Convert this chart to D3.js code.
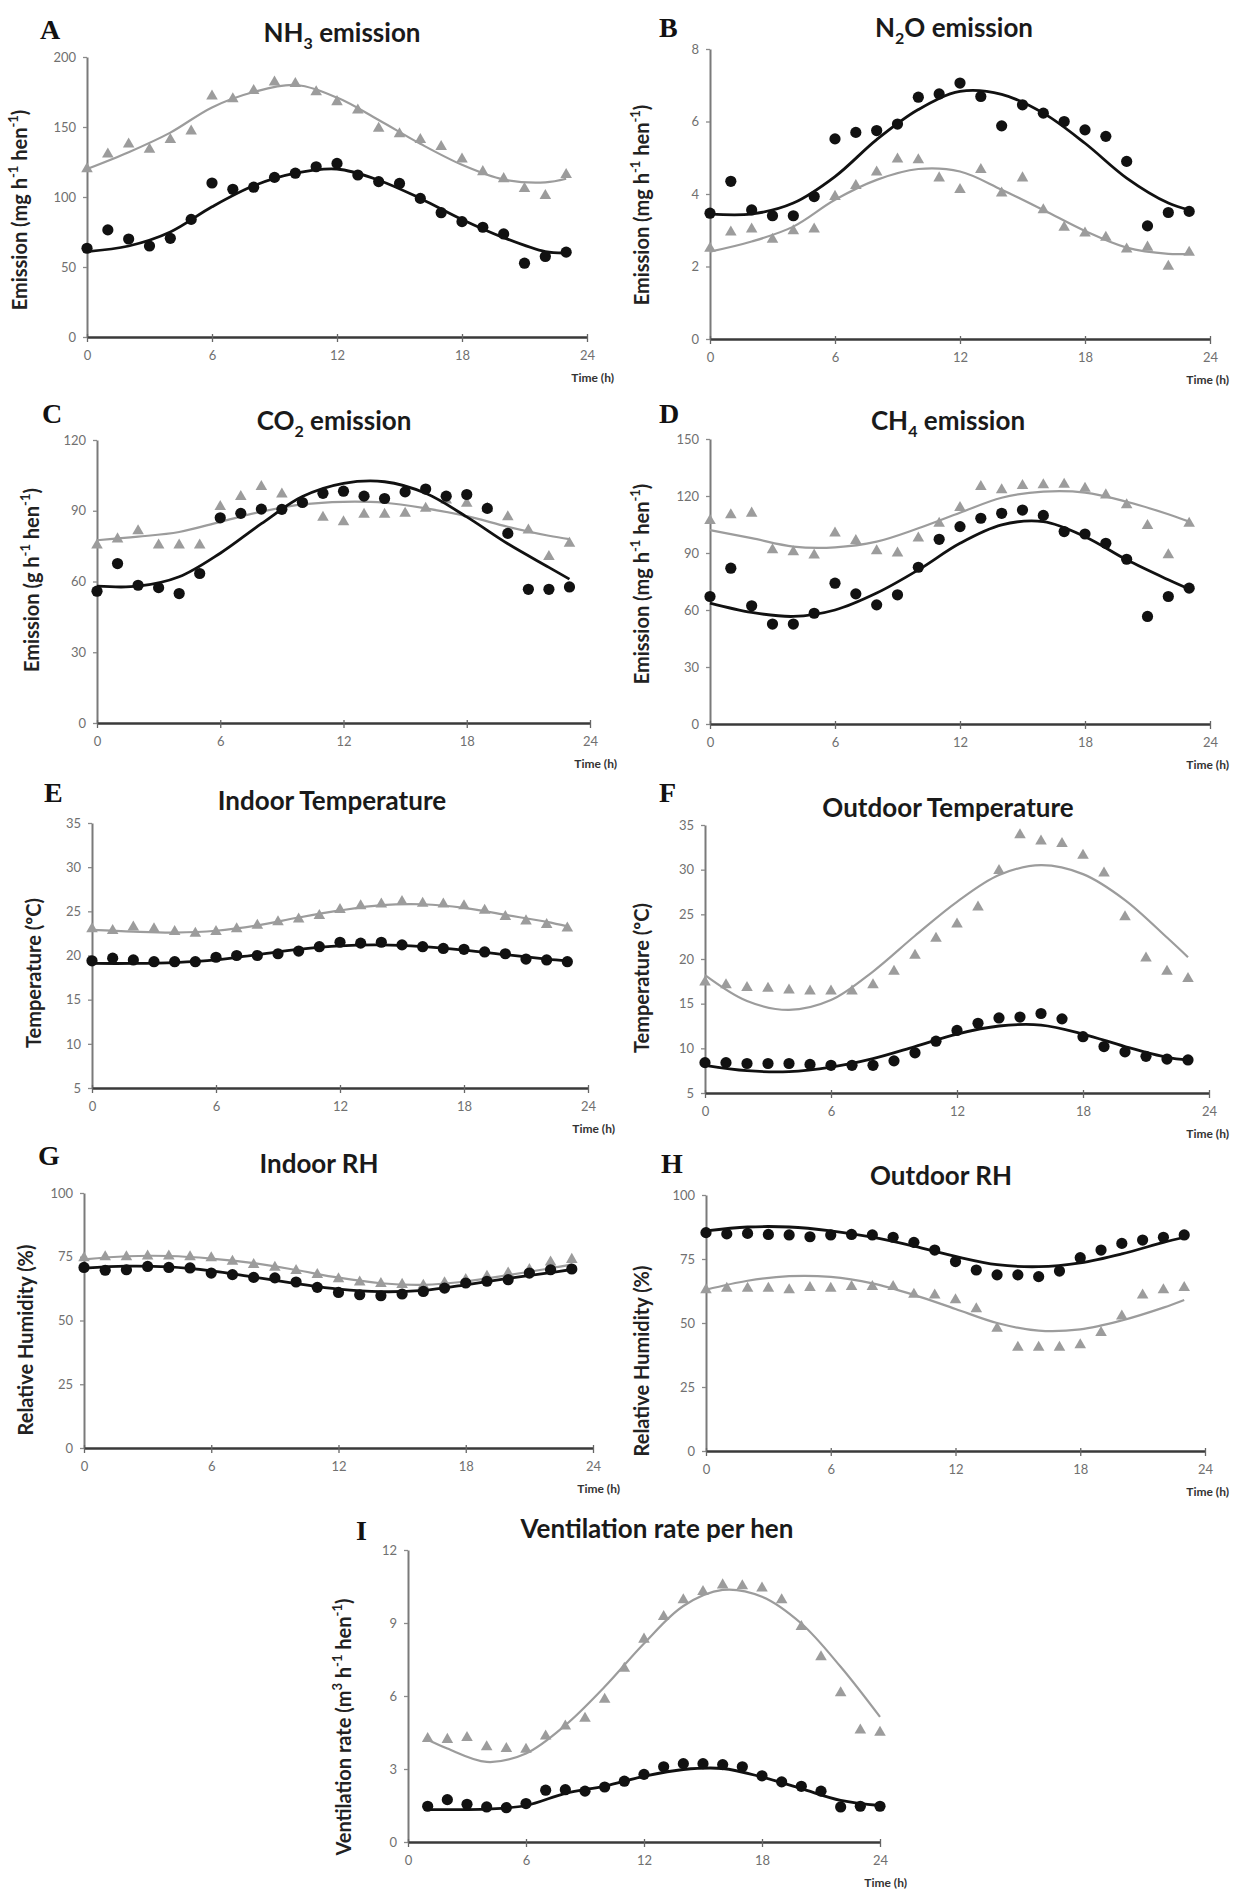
<!DOCTYPE html>
<html><head><meta charset="utf-8">
<script src="https://cdn.jsdelivr.net/npm/d3@7"></script>
<style>
body{margin:0;background:#fff;}
svg{display:block;background:#fff;}
</style></head><body>
<svg id="chart" width="1233" height="1892"></svg>
<script>
// ---------- categories / ticks ----------
const hours   = [0,1,2,3,4,5,6,7,8,9,10,11,12,13,14,15,16,17,18,19,20,21,22,23];
const hoursI  = [1,2,3,4,5,6,7,8,9,10,11,12,13,14,15,16,17,18,19,20,21,22,23,24];
const fitHours  = [0,2,4,6,8,10,12,14,16,18,20,22,23];
const fitHoursI = [1,2,4,6,8,10,12,14,16,18,20,22,24];
const xTicks = [0,6,12,18,24];

// ---------- A: NH3 ----------
const nh3Circle = [63.4,76.5,70,65,70.5,84,110,105.5,107,114,117,121.6,124,115.7,111,109.7,99,88.8,82.4,78.4,73.6,52.7,57.5,60.6];
const nh3Tri    = [120,130.6,137.8,134,141,147,172,170,176,182,181,175,168,162,149,145,141,136,127,118,113,106,101,116];
const nh3FitCircle = [61,65,75,93,108,117,120,112,99,84,71,61,60];
const nh3FitTri    = [120,132,146,164,175,180,171,155,138,123,112.5,110.5,113];
const nh3Ticks = [0,50,100,150,200];

// ---------- B: N2O ----------
const n2oCircle = [3.47,4.35,3.56,3.4,3.4,3.93,5.52,5.7,5.75,5.93,6.67,6.76,7.06,6.69,5.88,6.46,6.23,6.0,5.77,5.59,4.9,3.12,3.49,3.52];
const n2oTri    = [2.5,2.95,3.03,2.75,2.98,3.03,3.93,4.23,4.6,4.96,4.94,4.44,4.12,4.67,4.02,4.44,3.56,3.08,2.92,2.8,2.48,2.53,2.0,2.39];
const n2oFitCircle = [3.45,3.45,3.75,4.48,5.5,6.33,6.83,6.75,6.23,5.4,4.44,3.75,3.56];
const n2oFitTri    = [2.41,2.69,3.1,3.84,4.39,4.69,4.62,4.12,3.56,2.98,2.52,2.35,2.35];
const n2oTicks = [0,2,4,6,8];

// ---------- C: CO2 ----------
const co2Circle = [55.9,67.6,58.4,57.4,54.9,63.4,87,88.9,90.7,90.6,93.5,97.4,98.3,96.2,95.2,98,99.2,96.2,96.9,91,80.4,56.7,56.7,57.7];
const co2Tri    = [75.4,78,81.4,75.4,75.4,75.4,91.7,96,100.2,97,93.5,87.2,85.3,88.4,88.4,88.9,91,94.5,93.1,91,87.4,81.8,70.5,76.1];
const co2FitCircle = [58,58,62,72,84.5,96,101.6,102.3,97.4,87.4,76,66,61];
const co2FitTri    = [77.5,79,81,85.3,89.6,92.7,93.8,93.4,91,87.7,83.2,79.4,78];
const co2Ticks = [0,30,60,90,120];

// ---------- D: CH4 ----------
const ch4Circle = [67.1,82,62.2,52.6,52.6,58.3,74.1,68.5,62.7,68,82.5,97.2,103.9,108.3,110.9,112.6,109.8,101.3,100,95.1,86.7,56.6,67.1,71.5];
const ch4Tri    = [107,110,110.9,91.6,90.6,88.8,100.4,96.5,91.1,89.9,97.8,105.6,113.9,124.9,123.2,125.4,125.8,126.1,124,120.5,115.3,104.4,89,105.6];
const ch4FitCircle = [63.6,58.7,56.6,60,68.9,81.1,95.1,104.8,106.5,98.6,86.4,75.9,71];
const ch4FitTri    = [102,97.8,93.4,93,96,103,111.2,119.1,122.3,121.8,117,110.4,106.5];
const ch4Ticks = [0,30,60,90,120,150];

// ---------- E: indoor temperature ----------
const tInCircle = [19.4,19.7,19.5,19.3,19.3,19.3,19.8,20,20,20.2,20.5,21,21.5,21.4,21.5,21.2,21,20.8,20.7,20.4,20.2,19.6,19.5,19.3];
const tInTri    = [23,22.8,23.2,23,22.7,22.5,22.7,23,23.4,23.8,24.1,24.5,25.2,25.6,25.8,26.1,25.9,25.8,25.6,25.1,24.4,23.9,23.5,23.1];
const tInFitCircle = [19.1,19.1,19.2,19.5,20.1,20.7,21.1,21.2,21.0,20.6,20.1,19.6,19.4];
const tInFitTri    = [22.9,22.7,22.6,22.8,23.4,24.3,25.1,25.7,25.8,25.4,24.6,23.8,23.3];
const tempTicks = [5,10,15,20,25,30,35];

// ---------- F: outdoor temperature ----------
const tOutCircle = [8.4,8.4,8.3,8.3,8.3,8.2,8.1,8.1,8.1,8.6,9.5,10.8,12,12.8,13.4,13.5,13.9,13.3,11.3,10.2,9.6,9.1,8.8,8.7];
const tOutTri    = [17.4,17.1,16.8,16.7,16.5,16.4,16.4,16.4,17.1,18.6,20.4,22.3,23.9,25.8,29.9,33.9,33.2,32.9,31.6,29.6,24.7,20.1,18.6,17.8];
const tOutFitCircle = [8.1,7.5,7.4,7.9,8.85,10.2,11.6,12.5,12.6,11.6,10.2,9.0,8.7];
const tOutFitTri    = [18.2,15.3,14.3,15.4,18.6,22.6,26.4,29.4,30.5,29.5,26.6,22.4,20.2];

// ---------- G: indoor RH ----------
const rhInCircle = [70.8,69.7,69.9,71.2,70.8,70.6,68.6,68,66.9,66.7,65.1,63,61,60.1,59.7,60.4,61.4,62.7,64.7,65.4,66,68.6,69.9,70.2];
const rhInTri    = [74.5,74.9,74.9,75.2,75.2,74.9,74.5,73.2,71.9,70.8,69.5,68,66.3,65,64.4,64.1,63.8,64.7,66,67.3,68.6,69.9,72.9,73.9];
const rhInFitCircle = [70.5,71.3,71,69.5,67,64.5,62.3,61.3,61.8,64,66.5,68.8,70];
const rhInFitTri    = [74,75.2,75.3,74.3,72.5,69.8,66.8,64.6,64,65.3,67.8,70.5,72];
const rhTicks = [0,25,50,75,100];

// ---------- H: outdoor RH ----------
const rhOutCircle = [85.3,84.8,85,84.6,84.4,83.7,84.4,84.6,84.4,83.5,81.5,78.5,74,70.7,68.8,68.8,68.1,70.3,75.5,78.5,81.1,82.4,83.5,84.4];
const rhOutTri    = [62.9,63.5,63.5,63.5,62.9,63.8,63.5,64.2,64.2,64.2,61.2,60.9,59,55.5,47.9,40.5,40.5,40.5,41.4,46.2,52.7,60.9,62.9,63.8];
const rhOutFitCircle = [86,87.5,87.5,86,83.5,80,76,72.8,72,73.5,77,81.5,83.5];
const rhOutFitTri    = [63,66.5,68.3,68,65.5,61,55.5,50,47,47.5,51,56,59];

// ---------- I: ventilation ----------
const ventCircle = [1.47,1.74,1.55,1.44,1.41,1.58,2.13,2.15,2.09,2.26,2.5,2.78,3.09,3.22,3.22,3.18,3.09,2.72,2.47,2.29,2.09,1.44,1.47,1.47];
const ventTri    = [4.25,4.21,4.29,3.91,3.84,3.8,4.35,4.76,5.08,5.86,7.13,8.33,9.26,9.95,10.29,10.56,10.52,10.43,9.95,8.85,7.61,6.13,4.6,4.5];
const ventFitCircle = [1.33,1.33,1.35,1.5,2.0,2.3,2.7,2.98,3.02,2.67,2.19,1.71,1.5];
const ventFitTri    = [4.2,3.84,3.29,3.64,4.8,6.38,8.16,9.7,10.36,10.08,8.98,7.2,5.14];
const ventTicks = [0,3,6,9,12];

// ---------- panel definitions (layout kept separate from values) ----------
const panels = [
 {letter:'A', title:[['NH'],['3','sub'],[' emission']], ylab:[['Emission (mg h'],['-1','sup'],[' hen'],['-1','sup'],[')']],
  h:hours, fh:fitHours, c:nh3Circle, t:nh3Tri, fc:nh3FitCircle, ft:nh3FitTri, ticks:nh3Ticks, dom:[0,200],
  x0:87, x1:587, yB:337, yT:57, lx:40, ly:39, tx:342, ty:42, yx:22, yy:210},
 {letter:'B', title:[['N'],['2','sub'],['O emission']], ylab:[['Emission (mg h'],['-1','sup'],[' hen'],['-1','sup'],[')']],
  h:hours, fh:fitHours, c:n2oCircle, t:n2oTri, fc:n2oFitCircle, ft:n2oFitTri, ticks:n2oTicks, dom:[0,8],
  x0:710, x1:1210, yB:339, yT:49, lx:659, ly:37, tx:954, ty:37, yx:644, yy:205},
 {letter:'C', title:[['CO'],['2','sub'],[' emission']], ylab:[['Emission (g h'],['-1','sup'],[' hen'],['-1','sup'],[')']],
  h:hours, fh:fitHours, c:co2Circle, t:co2Tri, fc:co2FitCircle, ft:co2FitTri, ticks:co2Ticks, dom:[0,120],
  x0:97, x1:590, yB:723, yT:440, lx:42, ly:423, tx:334, ty:430, yx:34, yy:580},
 {letter:'D', title:[['CH'],['4','sub'],[' emission']], ylab:[['Emission (mg h'],['-1','sup'],[' hen'],['-1','sup'],[')']],
  h:hours, fh:fitHours, c:ch4Circle, t:ch4Tri, fc:ch4FitCircle, ft:ch4FitTri, ticks:ch4Ticks, dom:[0,150],
  x0:710, x1:1210, yB:724, yT:439, lx:659, ly:423, tx:948, ty:430, yx:644, yy:584},
 {letter:'E', title:[['Indoor Temperature']], ylab:[['Temperature (ºC)']],
  h:hours, fh:fitHours, c:tInCircle, t:tInTri, fc:tInFitCircle, ft:tInFitTri, ticks:tempTicks, dom:[5,35],
  x0:92, x1:588, yB:1088, yT:823, lx:44, ly:802, tx:332, ty:810, yx:36, yy:973},
 {letter:'F', title:[['Outdoor Temperature']], ylab:[['Temperature (ºC)']],
  h:hours, fh:fitHours, c:tOutCircle, t:tOutTri, fc:tOutFitCircle, ft:tOutFitTri, ticks:tempTicks, dom:[5,35],
  x0:705, x1:1209, yB:1093, yT:825, lx:659, ly:802, tx:948, ty:817, yx:644, yy:978},
 {letter:'G', title:[['Indoor RH']], ylab:[['Relative Humidity (%)']],
  h:hours, fh:fitHours, c:rhInCircle, t:rhInTri, fc:rhInFitCircle, ft:rhInFitTri, ticks:rhTicks, dom:[0,100],
  x0:84, x1:593, yB:1448, yT:1193, lx:38, ly:1165, tx:319, ty:1173, yx:28, yy:1340},
 {letter:'H', title:[['Outdoor RH']], ylab:[['Relative Humidity (%)']],
  h:hours, fh:fitHours, c:rhOutCircle, t:rhOutTri, fc:rhOutFitCircle, ft:rhOutFitTri, ticks:rhTicks, dom:[0,100],
  x0:706, x1:1205, yB:1451, yT:1195, lx:661, ly:1173, tx:941, ty:1185, yx:644, yy:1361},
 {letter:'I', title:[['Ventilation rate per hen']], ylab:[['Ventilation rate (m'],['3','sup'],[' h'],['-1','sup'],[' hen'],['-1','sup'],[')']],
  h:hoursI, fh:fitHoursI, c:ventCircle, t:ventTri, fc:ventFitCircle, ft:ventFitTri, ticks:ventTicks, dom:[0,12],
  x0:408, x1:880, yB:1842, yT:1550, lx:356, ly:1540, tx:657, ty:1538, yx:346, yy:1727}
];

const FONT = 'Lato, "Open Sans", "DejaVu Sans", sans-serif';
const GRAY = '#9c9c9c';
const BLACK = '#111';
const svg = d3.select('#chart');

function addParts(textSel, parts, small, shift) {
  let off = 0;
  parts.forEach(([s, kind]) => {
    const ts = textSel.append('tspan').text(s);
    if (kind === 'sub') { ts.attr('dy', shift - off).attr('font-size', small); off = shift; }
    else if (kind === 'sup') { ts.attr('dy', -shift - off).attr('font-size', small); off = -shift; }
    else { if (off !== 0) ts.attr('dy', -off); off = 0; }
  });
}

panels.forEach(p => {
  const x = d3.scaleLinear().domain([0, 24]).range([p.x0, p.x1]);
  const y = d3.scaleLinear().domain(p.dom).range([p.yB, p.yT]);
  const g = svg.append('g');

  // y axis
  const ya = g.append('g').attr('transform', `translate(${p.x0},0)`)
    .call(d3.axisLeft(y).tickValues(p.ticks).tickSize(4).tickSizeOuter(0).tickPadding(7));
  ya.attr('font-family', FONT).attr('font-size', 13);
  ya.select('.domain').attr('stroke', '#7a7a7a').attr('stroke-width', 2);
  ya.selectAll('.tick line').attr('stroke', '#8a8a8a').attr('stroke-width', 1.3);
  ya.selectAll('.tick text').attr('fill', '#707070');

  // x axis
  const xa = g.append('g').attr('transform', `translate(0,${p.yB})`)
    .call(d3.axisBottom(x).tickValues(xTicks).tickSize(5).tickSizeOuter(0).tickPadding(9));
  xa.attr('font-family', FONT).attr('font-size', 13);
  xa.select('.domain').attr('stroke', '#3a3a3a').attr('stroke-width', 2.6);
  xa.selectAll('.tick line').attr('stroke', '#666').attr('stroke-width', 1.3).attr('y1', -3);
  xa.selectAll('.tick text').attr('fill', '#707070');

  // Time label
  g.append('text').attr('x', Math.min(p.x1 + 27, 1229)).attr('y', p.yB + 45).attr('text-anchor', 'end')
    .attr('font-family', FONT).attr('font-weight', 700).attr('font-size', 12).attr('fill', '#333')
    .text('Time (h)');

  // fitted lines
  const line = d3.line().x(d => x(d[0])).y(d => y(d[1])).curve(d3.curveCatmullRom.alpha(0.5));
  g.append('path').datum(d3.zip(p.fh, p.ft)).attr('d', line)
    .attr('fill', 'none').attr('stroke', GRAY).attr('stroke-width', 2.2);
  // triangles
  const tri = d3.symbol().type(d3.symbolTriangle).size(58);
  g.selectAll('.tri').data(d3.zip(p.h, p.t)).join('path').attr('class', 'tri')
    .attr('d', tri).attr('transform', d => `translate(${x(d[0])},${y(d[1])})`).attr('fill', GRAY);
  g.append('path').datum(d3.zip(p.fh, p.fc)).attr('d', line)
    .attr('fill', 'none').attr('stroke', BLACK).attr('stroke-width', 2.8);
  // circles
  g.selectAll('.dot').data(d3.zip(p.h, p.c)).join('circle').attr('class', 'dot')
    .attr('cx', d => x(d[0])).attr('cy', d => y(d[1])).attr('r', 5.6).attr('fill', BLACK);

  // panel letter
  g.append('text').attr('x', p.lx).attr('y', p.ly)
    .attr('font-family', '"Liberation Serif", "Times New Roman", serif').attr('font-weight', 700)
    .attr('font-size', 28).attr('fill', '#111').text(p.letter);

  // title
  const tt = g.append('text').attr('x', p.tx).attr('y', p.ty).attr('text-anchor', 'middle')
    .attr('font-family', FONT).attr('font-weight', 700).attr('font-size', 26).attr('fill', '#1a1a1a');
  addParts(tt, p.title, 16, 7);

  // y label
  const yl = g.append('text').attr('transform', `translate(${p.yx},${p.yy}) rotate(-90)`)
    .attr('text-anchor', 'middle').attr('dominant-baseline', 'middle')
    .attr('font-family', FONT).attr('font-weight', 700).attr('font-size', 20).attr('fill', '#222');
  addParts(yl, p.ylab, 13, 7);
});
</script>
</body></html>
